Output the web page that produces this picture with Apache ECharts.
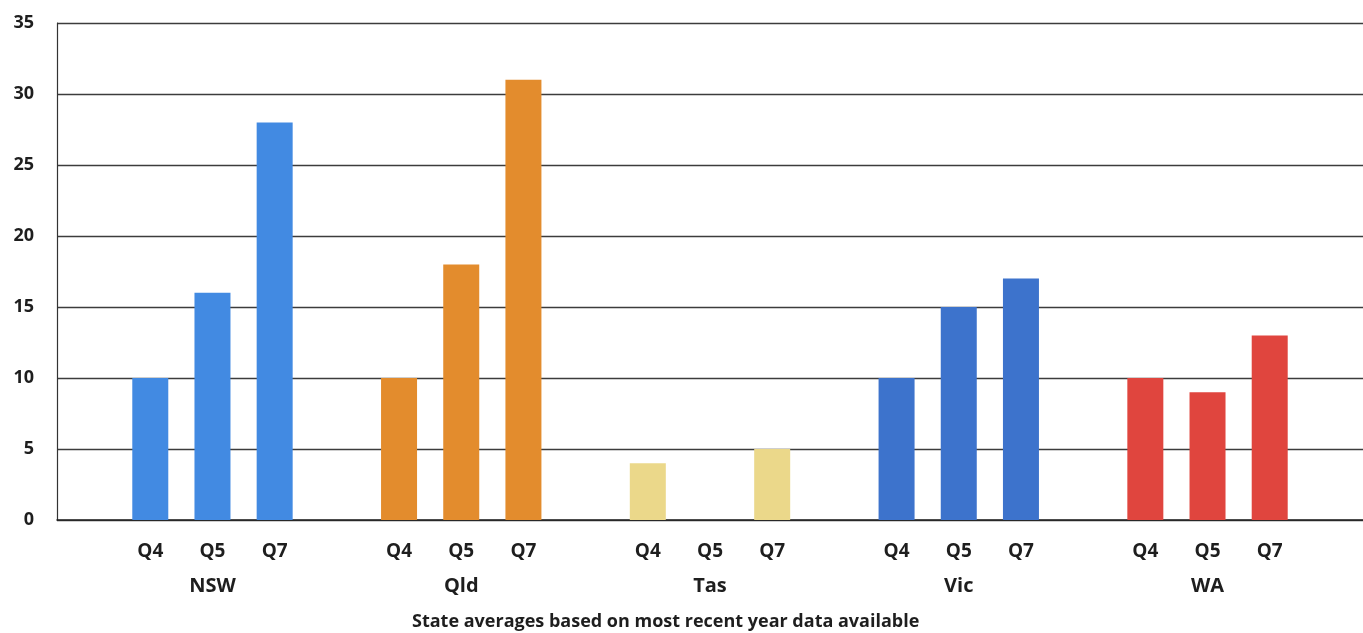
<!DOCTYPE html>
<html>
<head>
<meta charset="utf-8">
<script src="https://cdn.jsdelivr.net/npm/echarts@6/dist/echarts.min.js"></script>
<style>
  html, body { margin: 0; padding: 0; background: #ffffff; }
  #chart { width: 1363px; height: 633px; }
</style>
</head>
<body>
<div id="chart"></div>
<script>
// States and the questions reported for each
const states = ['NSW', 'Qld', 'Tas', 'Vic', 'WA'];
const questions = ['Q4', 'Q5', 'Q7'];

// State averages per question
const nswValues = [10, 16, 28];
const qldValues = [10, 18, 31];
const tasValues = [4, 0, 5];
const vicValues = [10, 15, 17];
const waValues = [10, 9, 13];

// Value axis ticks
const yTicks = [0, 5, 10, 15, 20, 25, 30, 35];

const stateColors = ['#428ae2', '#e38c2d', '#ebd88a', '#3d73cc', '#e0453e'];
const stateValues = [nswValues, qldValues, tasValues, vicValues, waValues];

// One slot per question with an empty slot before each state group and at the end
const categories = ['gap0'];
const barData = [null];
states.forEach(function (s, si) {
  questions.forEach(function (q, qi) {
    categories.push(s + '|' + q);
    barData.push({ value: stateValues[si][qi], itemStyle: { color: stateColors[si] } });
  });
  categories.push('gap' + (si + 1));
  barData.push(null);
});

const fontFamily = '"Open Sans", "DejaVu Sans", sans-serif';
const textColor = '#1e1e1e';

const chart = echarts.init(document.getElementById('chart'), null, { renderer: 'canvas' });
chart.setOption({
  animation: false,
  backgroundColor: '#ffffff',
  title: {
    text: 'State averages based on most recent year data available',
    left: 407,
    top: 608,
    textStyle: { fontFamily: fontFamily, fontWeight: 'bold', fontSize: 18, color: textColor }
  },
  grid: { left: 57, top: 23, width: 1307, height: 497, containLabel: false },
  xAxis: [
    {
      type: 'category',
      data: categories,
      position: 'bottom',
      axisLine: { show: true, lineStyle: { color: '#222', width: 1.5 } },
      axisTick: { show: false },
      axisLabel: {
        interval: 0,
        margin: 22,
        fontFamily: fontFamily,
        fontWeight: 'bold',
        fontSize: 19,
        color: textColor,
        formatter: function (v) { return v.indexOf('|') >= 0 ? v.split('|')[1] : ''; }
      }
    },
    {
      type: 'category',
      data: categories,
      position: 'bottom',
      gridIndex: 0,
      axisLine: { show: false },
      axisTick: { show: false },
      axisLabel: {
        interval: 0,
        margin: 56,
        fontFamily: fontFamily,
        fontWeight: 'bold',
        fontSize: 20,
        color: textColor,
        formatter: function (v) {
          const parts = v.split('|');
          return parts[1] === questions[1] ? parts[0] : '';
        }
      }
    }
  ],
  yAxis: {
    type: 'value',
    min: yTicks[0],
    max: yTicks[yTicks.length - 1],
    interval: yTicks[1] - yTicks[0],
    axisLine: { show: true, lineStyle: { color: '#333', width: 1.2 } },
    axisTick: { show: false },
    axisLabel: {
      margin: 23,
      fontFamily: fontFamily,
      fontWeight: 'bold',
      fontSize: 18,
      color: textColor
    },
    splitLine: { show: true, lineStyle: { color: '#3c3c3c', width: 1.3 } }
  },
  series: [
    {
      type: 'bar',
      xAxisIndex: 0,
      data: barData,
      barWidth: 36
    }
  ]
});
</script>
</body>
</html>
